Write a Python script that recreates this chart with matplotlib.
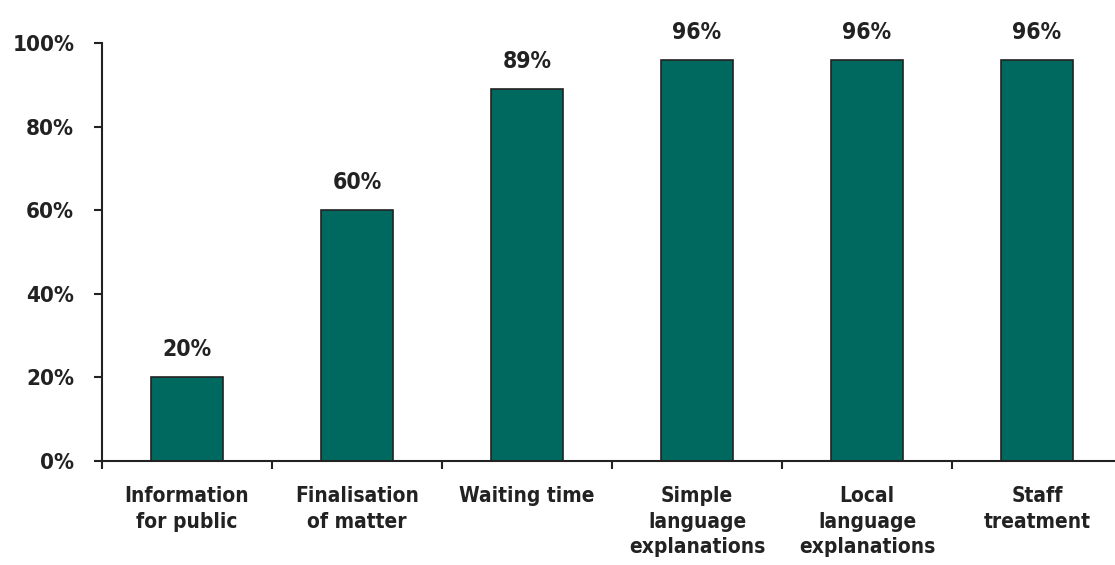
import matplotlib
matplotlib.use("Agg")
import matplotlib.pyplot as plt
import numpy as np

categories = ["Information\nfor public", "Finalisation\nof matter", "Waiting time",
              "Simple\nlanguage\nexplanations", "Local\nlanguage\nexplanations",
              "Staff\ntreatment"]
values = [20, 60, 89, 96, 96, 96]
yticks = [0, 20, 40, 60, 80, 100]

plt.rcParams['font.family'] = ['DejaVu Sans']
plt.rcParams['font.stretch'] = 'condensed'
plt.rcParams['font.weight'] = 'bold'

ink = "#222222"

fig = plt.figure(figsize=(11.15, 5.65), dpi=100)
ax = fig.add_axes([102/1115, 104/565, 1020/1115, 418/565])

x = np.arange(len(categories))
ax.bar(x, values, width=0.42, color="#00695F", edgecolor=ink, linewidth=1.2, zorder=3)

# percentage above each bar
for xi, v in zip(x, values):
    ax.text(xi, v + 5, f"{v}%", ha="center", va="baseline",
            fontsize=16.5, fontweight="bold", color=ink)

ax.set_xlim(-0.5, 5.5)
ax.set_ylim(0, 100)
ax.set_yticks(yticks)
ax.set_yticklabels([f"{t}%" for t in yticks], fontsize=16, fontweight="bold", color=ink)
ax.set_xticks(x)
ax.set_xticklabels(categories, fontsize=15, fontweight="bold", color=ink, linespacing=1.35)
ax.tick_params(axis="x", which="major", length=0, pad=18)
ax.set_xticks(np.arange(-0.5, 6, 1), minor=True)
ax.tick_params(axis="x", which="minor", length=6, width=1.5, color=ink, direction="out")
ax.tick_params(axis="y", length=6, width=1.5, color=ink, pad=14)

for s in ["top", "right"]:
    ax.spines[s].set_visible(False)
for s in ["left", "bottom"]:
    ax.spines[s].set_linewidth(1.5)
    ax.spines[s].set_color(ink)
ax.spines["bottom"].set_zorder(4)

fig.savefig("out.png", dpi=100)
